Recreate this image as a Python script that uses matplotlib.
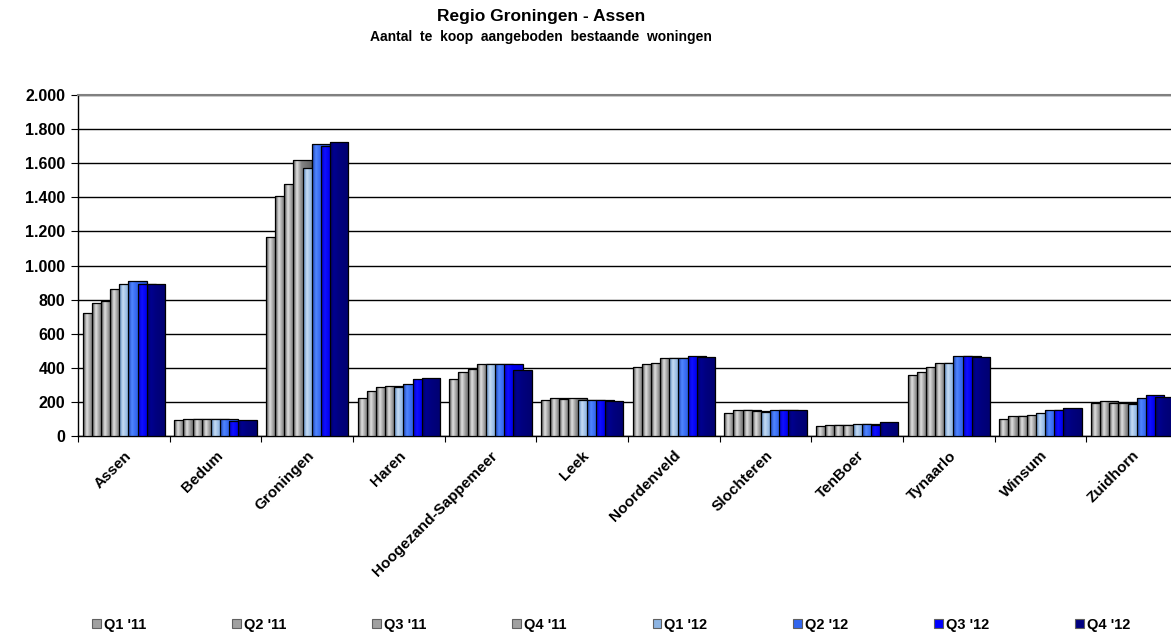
import numpy as np
import matplotlib
matplotlib.use('Agg')
import matplotlib.pyplot as plt
from matplotlib.patches import Patch
from matplotlib.ticker import FuncFormatter

plt.rcParams['font.family'] = ['Liberation Sans', 'DejaVu Sans']
plt.rcParams['font.weight'] = 'bold'

gemeenten = ['Assen', 'Bedum', 'Groningen', 'Haren', 'Hoogezand-Sappemeer', 'Leek',
             'Noordenveld', 'Slochteren', 'TenBoer', 'Tynaarlo', 'Winsum', 'Zuidhorn']
kwartalen = ["Q1 '11", "Q2 '11", "Q3 '11", "Q4 '11", "Q1 '12", "Q2 '12", "Q3 '12", "Q4 '12"]

q1_11 = [720, 95, 1170, 225, 335, 210, 405, 135, 57, 360, 100, 195]
q2_11 = [780, 100, 1410, 265, 375, 220, 420, 150, 65, 378, 117, 205]
q3_11 = [790, 100, 1480, 285, 395, 215, 430, 150, 65, 403, 117, 195]
q4_11 = [860, 100, 1620, 295, 425, 220, 455, 145, 65, 429, 125, 195]
q1_12 = [890, 100, 1570, 285, 425, 210, 455, 140, 72, 429, 135, 185]
q2_12 = [910, 100, 1710, 305, 425, 210, 460, 150, 72, 472, 151, 220]
q3_12 = [890, 90, 1700, 335, 425, 210, 470, 155, 62, 472, 151, 240]
q4_12 = [890, 95, 1725, 340, 385, 205, 465, 150, 82, 464, 162, 230]
reeksen = [q1_11, q2_11, q3_11, q4_11, q1_12, q2_12, q3_12, q4_12]

# (left edge, highlight, middle, right) colours for the shaded bars
kleuren = [
    ('#4a4a4a', '#e0e0e0', '#858585', '#626262'),
    ('#4a4a4a', '#e0e0e0', '#858585', '#626262'),
    ('#4a4a4a', '#e0e0e0', '#858585', '#626262'),
    ('#4a4a4a', '#e0e0e0', '#858585', '#626262'),
    ('#4f7fb8', '#c6dcf4', '#8db4e2', '#7aa3d6'),
    ('#1a40b0', '#4f85ff', '#3366ee', '#2a56d8'),
    ('#0000c8', '#1010ff', '#0000f0', '#0000e0'),
    ('#000060', '#000090', '#000080', '#000070'),
]
legend_kleuren = ['#a0a0a0', '#a0a0a0', '#a0a0a0', '#a0a0a0', '#8db4e2', '#3366ee', '#0000ff', '#000080']


def gradient(cols, n=40):
    stops = [0.0, 0.2, 0.45, 1.0]
    rgb = np.array([matplotlib.colors.to_rgb(c) for c in cols])
    t = np.linspace(0, 1, n)
    return np.stack([np.interp(t, stops, rgb[:, k]) for k in range(3)], axis=1)[None, :, :]


fig = plt.figure(figsize=(11.71, 6.35), dpi=100)
ax = fig.add_axes([78 / 1171, 1 - 436 / 635, 1100 / 1171, 341 / 635])

x = np.arange(len(gemeenten))
stap = 0.1
breedte = 0.2
for i, vals in enumerate(reeksen):
    z = 3 + i
    bars = ax.bar(x - 0.45 + i * stap, vals, width=breedte, align='edge',
                  color=legend_kleuren[i], edgecolor='none', zorder=z)
    grad = gradient(kleuren[i])
    for b in bars:
        x0 = b.get_x()
        im = ax.imshow(grad, extent=[x0, x0 + b.get_width(), 0, b.get_height()],
                       aspect='auto', interpolation='bilinear', zorder=z + 0.1)
        im.set_clip_path(b)
    ax.bar(x - 0.45 + i * stap, vals, width=breedte, align='edge',
           facecolor='none', edgecolor='black', linewidth=0.9, zorder=z + 0.2)

ax.set_xlim(-0.5, len(gemeenten) - 0.5)
ax.set_ylim(0, 2000)
ax.set_yticks(np.arange(0, 2001, 200))
ax.yaxis.set_major_formatter(FuncFormatter(lambda v, p: f'{int(v):,}'.replace(',', '.')))
ax.yaxis.grid(True, color='black', linewidth=1.0)
ax.set_axisbelow(True)
ax.tick_params(axis='y', labelsize=11.5, length=5, width=0.8, pad=4)

ax.set_xticks(np.arange(-0.5, len(gemeenten), 1))
ax.set_xticklabels([])
ax.set_xticks(x, minor=True)
ax.set_xticklabels(gemeenten, minor=True, rotation=45, ha='right', rotation_mode='anchor', fontsize=11)
ax.tick_params(axis='x', which='major', length=4, width=0.8)
ax.tick_params(axis='x', which='minor', length=0, pad=9)

for s in ['left', 'bottom']:
    ax.spines[s].set_color('black')
    ax.spines[s].set_linewidth(1.0)
ax.spines['top'].set_color('#808080')
ax.spines['top'].set_linewidth(1.5)
ax.spines['right'].set_visible(False)

fig.text(0.462, 1 - 16 / 635, 'Regio Groningen - Assen', ha='center', va='center', fontsize=12.5)
fig.text(0.462, 1 - 37 / 635, '  '.join('Aantal te koop aangeboden bestaande woningen'.split()),
         ha='center', va='center', fontsize=10)

handles = [Patch(facecolor=c, edgecolor='#606060', linewidth=0.8) for c in legend_kleuren]
fig.legend(handles, kwartalen, loc='center', bbox_to_anchor=(0.522, 1 - 625 / 635), ncol=8,
           frameon=False, fontsize=10.5, handlelength=0.6, handleheight=0.6, handletextpad=0.2,
           columnspacing=5.9)

fig.savefig('out.png', dpi=100)
